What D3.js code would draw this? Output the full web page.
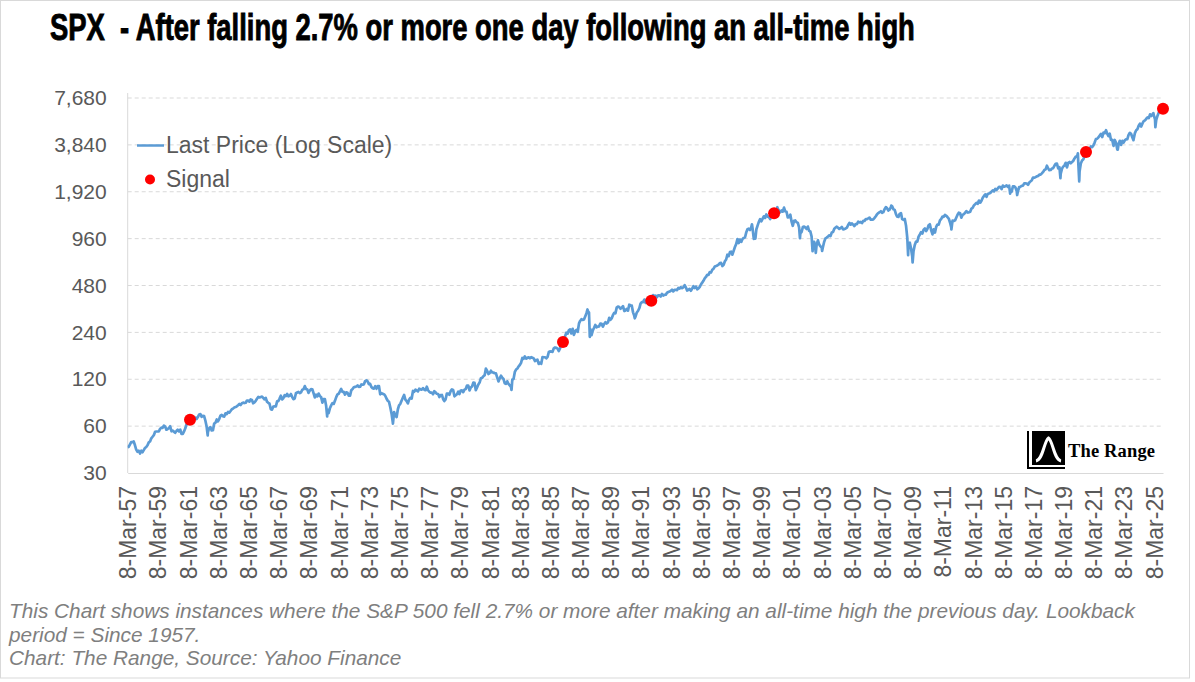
<!DOCTYPE html>
<html>
<head>
<meta charset="utf-8">
<script src="https://cdn.jsdelivr.net/npm/d3@7"></script>
<style>
  body { margin: 0; background: #fff; }
  svg { display: block; font-family: Arial, "Liberation Sans", sans-serif; }
</style>
</head>
<body>
<div id="chart"></div>
<script>
// monthly closes, starting Mar 1957
const spx1950s = [44.1, 45.7, 47.4, 47.4, 47.9, 45.2, 42.4, 41.1, 41.7, 40.0,
  41.7, 40.8, 42.1, 43.4, 44.1, 45.2, 47.2, 47.8, 50.1, 51.3, 52.5, 55.2,
  55.4, 55.4, 55.4, 57.6, 58.7, 58.5, 60.5, 59.6, 56.9, 57.5, 58.3, 59.9]
const spx1960s = [55.6, 56.1, 55.3, 54.4, 55.8, 56.9, 55.5, 57.0, 53.5, 53.4, 55.5, 58.1,
  61.8, 63.4, 65.1, 65.3, 66.6, 64.6, 66.8, 68.1, 66.7, 68.6, 71.3, 71.6,
  68.8, 69.9, 69.6, 65.2, 59.6, 54.8, 58.2, 59.1, 56.3, 56.5, 62.3, 63.1,
  66.2, 64.3, 66.6, 70.0, 70.8, 69.4, 69.1, 72.5, 71.7, 74.0, 73.2, 75.0,
  77.0, 77.8, 79.0, 79.5, 80.4, 81.7, 83.2, 82.0, 84.2, 84.9, 84.4, 84.8,
  87.6, 87.4, 86.2, 89.1, 88.4, 84.1, 85.3, 87.2, 90.0, 92.4, 91.6, 92.4,
  92.9, 91.2, 89.2, 91.1, 86.1, 84.7, 83.6, 77.1, 76.6, 80.2, 80.5, 80.3,
  86.6, 86.8, 90.2, 94.0, 89.1, 90.6, 94.8, 93.6, 96.7, 93.3, 94.0, 96.5,
  92.2, 89.4, 90.2, 97.6, 98.7, 99.6, 97.7, 98.9, 102.7, 103.4, 108.4, 103.9,
  103.0, 98.1, 101.5, 103.7, 103.5, 97.7, 91.8, 95.5, 93.1, 97.1, 93.8, 92.1]
const spx1970s = [85.0, 89.5, 89.6, 81.5, 76.6, 72.7, 78.1, 81.5, 84.3, 83.3, 87.2, 92.2,
  95.9, 96.8, 100.3, 103.9, 99.6, 99.7, 95.6, 99.0, 98.3, 94.2, 94.0, 102.1,
  103.9, 106.6, 107.2, 107.7, 109.5, 107.1, 107.4, 111.1, 110.6, 111.6, 116.7, 118.1,
  116.0, 111.7, 112.0, 107.0, 105.0, 104.3, 108.2, 104.3, 108.4, 108.3, 96.0, 97.6,
  96.6, 96.2, 94.0, 90.3, 87.3, 86.0, 79.3, 72.2, 63.5, 73.9, 70.0, 68.6,
  77.0, 81.6, 83.4, 87.3, 91.2, 95.2, 88.8, 86.9, 83.9, 89.0, 91.2, 90.2,
  100.9, 99.7, 102.8, 101.6, 100.2, 104.3, 103.4, 102.9, 105.2, 102.9, 102.1, 107.5,
  102.0, 99.8, 98.4, 98.4, 96.1, 100.5, 98.9, 96.8, 96.5, 92.3, 94.8, 95.1,
  89.3, 87.0, 89.2, 97.0, 97.2, 95.5, 100.7, 103.3, 102.5, 93.2, 94.7, 96.1,
  99.9, 96.3, 101.6, 101.8, 99.1, 102.9, 103.8, 109.3, 109.3, 101.8, 106.2, 107.9]
const spx1980s = [114.2, 113.7, 102.1, 106.3, 111.2, 114.2, 121.7, 122.4, 125.5, 127.5, 140.5, 135.8,
  129.6, 131.3, 136.0, 132.8, 132.6, 131.2, 130.9, 122.8, 116.2, 121.9, 126.4, 122.6,
  120.4, 113.1, 112.0, 116.4, 111.9, 109.6, 107.1, 119.5, 120.4, 133.7, 138.5, 140.6,
  145.3, 148.1, 153.0, 164.4, 162.4, 168.1, 162.6, 164.4, 166.1, 163.6, 166.4, 164.9,
  163.4, 157.1, 159.2, 160.1, 150.6, 153.2, 150.7, 166.7, 166.1, 166.1, 163.6, 167.2,
  179.6, 181.2, 180.7, 179.8, 189.6, 191.9, 190.9, 188.6, 182.1, 189.8, 202.2, 211.3,
  211.8, 226.9, 238.9, 235.5, 247.4, 250.8, 236.1, 252.9, 231.3, 244.0, 249.2, 242.2,
  274.1, 284.2, 291.7, 288.4, 290.1, 304.0, 318.7, 329.8, 321.8, 251.8, 230.3, 247.1,
  257.1, 267.8, 258.9, 261.3, 262.2, 273.5, 272.0, 261.5, 271.9, 279.0, 273.7, 277.7,
  297.5, 288.9, 294.9, 309.6, 320.5, 318.0, 346.1, 351.5, 349.2, 340.4, 346.0, 353.4]
const spx1990s = [329.1, 331.9, 339.9, 330.8, 361.2, 358.0, 356.2, 322.6, 306.1, 304.0, 322.2, 330.2,
  343.9, 367.1, 375.2, 375.3, 389.8, 371.2, 387.8, 395.4, 387.9, 392.5, 375.2, 417.1,
  408.8, 412.7, 403.7, 415.0, 415.4, 408.1, 424.2, 414.0, 417.8, 418.7, 431.4, 435.7,
  438.8, 443.4, 451.7, 440.2, 450.2, 450.5, 448.1, 463.6, 458.9, 467.8, 461.8, 466.5,
  481.6, 467.1, 445.8, 450.9, 456.5, 444.3, 458.3, 475.5, 462.7, 472.4, 453.7, 459.3,
  470.4, 487.4, 500.7, 514.7, 533.4, 544.8, 562.1, 561.9, 584.4, 581.5, 605.4, 615.9,
  636.0, 640.4, 645.5, 654.2, 669.1, 670.6, 639.9, 652.0, 687.3, 705.3, 757.0, 740.7,
  786.2, 790.8, 757.1, 801.3, 848.3, 885.1, 954.3, 899.5, 947.3, 914.6, 955.4, 970.4,
  980.3, 1049.3, 1101.8, 1111.8, 1090.8, 1133.8, 1120.7, 957.3, 1017.0, 1098.7, 1163.6, 1229.2,
  1279.6, 1238.3, 1286.4, 1335.2, 1301.8, 1372.7, 1328.7, 1320.4, 1282.7, 1362.9, 1389.0, 1469.3]
const spx2000s = [1394.5, 1366.4, 1498.6, 1452.4, 1420.6, 1454.6, 1430.8, 1517.7, 1436.5, 1429.4, 1315.2, 1320.3,
  1366.0, 1239.9, 1160.3, 1249.5, 1255.8, 1224.4, 1211.2, 1133.6, 1040.9, 1059.8, 1139.5, 1148.1,
  1130.2, 1106.7, 1147.4, 1076.9, 1067.1, 989.8, 911.6, 916.1, 815.3, 885.8, 936.3, 879.8,
  855.7, 841.2, 848.2, 916.9, 963.6, 974.5, 990.3, 1008.0, 996.0, 1050.7, 1058.2, 1111.9,
  1131.1, 1144.9, 1126.2, 1107.3, 1120.7, 1140.8, 1101.7, 1104.2, 1114.6, 1130.2, 1173.8, 1211.9,
  1181.3, 1203.6, 1180.6, 1156.9, 1191.5, 1191.3, 1234.2, 1220.3, 1228.8, 1207.0, 1249.5, 1248.3,
  1280.1, 1280.7, 1294.8, 1310.6, 1270.1, 1270.2, 1276.7, 1303.8, 1335.9, 1377.9, 1400.6, 1418.3,
  1438.2, 1406.8, 1420.9, 1482.4, 1530.6, 1503.4, 1455.3, 1474.0, 1526.8, 1549.4, 1481.1, 1468.4,
  1378.6, 1330.6, 1322.7, 1385.6, 1400.4, 1280.0, 1267.4, 1282.8, 1166.4, 968.8, 896.2, 903.3,
  825.9, 735.1, 797.9, 872.8, 919.1, 919.3, 987.5, 1020.6, 1057.1, 1036.2, 1095.6, 1115.1]
const spx2010s = [1073.9, 1104.5, 1169.4, 1186.7, 1089.4, 1030.7, 1101.6, 1049.3, 1141.2, 1183.3, 1180.6, 1257.6,
  1286.1, 1327.2, 1325.8, 1363.6, 1345.2, 1320.6, 1292.3, 1218.9, 1131.4, 1253.3, 1247.0, 1257.6,
  1312.4, 1365.7, 1408.5, 1397.9, 1310.3, 1362.2, 1379.3, 1406.6, 1440.7, 1412.2, 1416.2, 1426.2,
  1498.1, 1514.7, 1569.2, 1597.6, 1630.7, 1606.3, 1685.7, 1633.0, 1681.6, 1756.5, 1805.8, 1848.4,
  1782.6, 1859.5, 1872.3, 1884.0, 1923.6, 1960.2, 1930.7, 2003.4, 1972.3, 2018.1, 2067.6, 2058.9,
  1995.0, 2104.5, 2067.9, 2085.5, 2107.4, 2063.1, 2103.8, 1972.2, 1920.0, 2079.4, 2080.4, 2043.9,
  1940.2, 1932.2, 2059.7, 2065.3, 2097.0, 2098.9, 2173.6, 2171.0, 2168.3, 2126.2, 2199.0, 2238.8,
  2278.9, 2363.6, 2362.7, 2384.2, 2411.8, 2423.4, 2470.3, 2471.7, 2519.4, 2575.3, 2647.6, 2673.6,
  2823.8, 2713.8, 2640.9, 2648.1, 2705.3, 2718.4, 2816.3, 2901.5, 2914.0, 2711.7, 2760.2, 2506.9,
  2704.1, 2784.5, 2834.4, 2945.8, 2752.1, 2941.8, 2980.4, 2926.5, 2976.7, 3037.6, 3141.0, 3230.8]
const spx2020s = [3225.5, 2954.2, 2584.6, 2912.4, 3044.3, 3100.3, 3271.1, 3500.3, 3363.0, 3270.0, 3621.6, 3756.1,
  3714.2, 3811.2, 3972.9, 4181.2, 4204.1, 4297.5, 4395.3, 4522.7, 4307.5, 4605.4, 4567.0, 4766.2,
  4515.6, 4373.9, 4530.4, 4131.9, 4132.2, 3785.4, 4130.3, 3955.0, 3585.6, 3872.0, 4080.1, 3839.5,
  4076.6, 3970.2, 4109.3, 4169.5, 4179.8, 4450.4, 4589.0, 4507.7, 4288.1, 4193.8, 4567.8, 4769.8,
  4845.7, 5096.3, 5254.4, 5035.7, 5277.5, 5460.5, 5522.3, 5648.4, 5762.5, 5705.5, 6032.4, 5881.6,
  6040.5, 5954.5, 5611.9, 5569.1, 5911.7, 6205.0, 6339.4, 6460.3, 6688.5]

// daily closes at turning points between month ends
const extraDates = ['1957-03-08', '1962-06-26', '1970-05-26', '1974-10-03', '1982-08-12',
  '1987-08-25', '1987-10-19', '1990-10-11', '1998-07-17', '1998-10-08', '2000-03-24',
  '2001-09-21', '2002-07-23', '2002-10-09', '2003-03-11', '2007-10-09', '2008-11-20',
  '2009-03-09', '2010-07-02', '2011-10-03', '2015-08-25', '2016-02-11', '2018-12-24',
  '2020-02-19', '2020-03-23', '2022-10-12', '2023-10-27', '2025-02-19', '2025-04-08',
  '2025-10-08', '2025-10-10']
const extraValues = [44.0, 52.3, 69.3, 62.3, 102.4,
  336.8, 224.8, 295.5, 1186.8, 959.4, 1527.5,
  965.8, 797.7, 776.8, 800.7, 1565.2, 752.4,
  676.5, 1022.6, 1099.2, 1867.6, 1829.1, 2351.1,
  3386.2, 2237.4, 3577.0, 4117.4, 6144.2, 4982.8,
  6753.7, 6552.5]

const signalDates = ['1961-04-24', '1986-01-08', '1991-11-15', '2000-01-04', '2020-09-03', '2025-10-10']
const signalValues = [66.0, 208.0, 382.6, 1399.4, 3455.1, 6552.5]

const yTicks = [30, 60, 120, 240, 480, 960, 1920, 3840, 7680]

const titleText = 'SPX  - After falling 2.7% or more one day following an all-time high'
const noteLines = [
  'This Chart shows instances where the S&P 500 fell 2.7% or more after making an all-time high the previous day. Lookback',
  'period = Since 1957.',
  'Chart: The Range, Source: Yahoo Finance',
]

const parse = d3.timeParse('%Y-%m-%d')

const monthly = [].concat(spx1950s, spx1960s, spx1970s, spx1980s, spx1990s, spx2000s, spx2010s, spx2020s)
  .map((v, i) => ({date: new Date(1957, 3 + i, 0), value: v}))
const extras = extraDates.map((d, i) => ({date: parse(d), value: extraValues[i]}))
const series = monthly.concat(extras).sort((a, b) => a.date - b.date)
const signals = signalDates.map((d, i) => ({date: parse(d), value: signalValues[i]}))

const W = 1195
const H = 682
const plot = {left: 127.7, right: 1163, top: 98, bottom: 473}
const grey = '#595959'
const gridColor = '#d9d9d9'

const svg = d3.select('#chart').append('svg')
  .attr('width', W)
  .attr('height', H)

svg.append('rect')
  .attr('x', 0.5).attr('y', 0.5)
  .attr('width', 1189).attr('height', 677.5)
  .attr('fill', '#fff')
  .attr('stroke', gridColor)

const x = d3.scaleTime()
  .domain([parse('1957-03-08'), parse('2025-10-10')])
  .range([plot.left, plot.right])

const y = d3.scaleLog()
  .base(2)
  .domain([30, 7680])
  .range([plot.bottom, plot.top])

// gridlines
svg.append('g')
  .selectAll('line')
  .data(yTicks.slice(1))
  .enter()
  .append('line')
  .attr('x1', plot.left).attr('x2', plot.right)
  .attr('y1', d => y(d)).attr('y2', d => y(d))
  .attr('stroke', gridColor)
  .attr('stroke-dasharray', '4,3')

// y axis
const yAxis = svg.append('g')
  .attr('transform', `translate(${plot.left}, 0)`)
  .call(d3.axisLeft(y).tickValues(yTicks).tickFormat(d3.format(',')).tickSize(0).tickPadding(21))
yAxis.select('.domain').attr('stroke', gridColor).attr('d', `M0,${plot.top - 5}V${plot.bottom}`)
yAxis.selectAll('text')
  .attr('fill', grey)
  .style('font-size', '21px')
  .style('font-family', 'Arial, "Liberation Sans", sans-serif')

// x axis
const xTicks = d3.range(0, 35).map(i => new Date(1957 + 2 * i, 2, 8))
const xAxis = svg.append('g')
  .attr('transform', `translate(0, ${plot.bottom})`)
  .call(d3.axisBottom(x).tickValues(xTicks).tickFormat(d3.timeFormat('%-d-%b-%y')).tickSize(0))
xAxis.select('.domain').attr('stroke', gridColor)
xAxis.selectAll('text')
  .attr('fill', grey)
  .style('font-size', '23px')
  .style('font-family', 'Arial, "Liberation Sans", sans-serif')
  .attr('text-anchor', 'end')
  .attr('transform', 'rotate(-90)')
  .attr('x', -13)
  .attr('y', 0)
  .attr('dy', '0.35em')

// price line
const line = d3.line()
  .x(d => x(d.date))
  .y(d => y(d.value))

svg.append('path')
  .datum(series)
  .attr('fill', 'none')
  .attr('stroke', '#5b9bd5')
  .attr('stroke-width', 2.7)
  .attr('stroke-linejoin', 'round')
  .attr('d', line)

svg.append('g')
  .selectAll('circle')
  .data(signals)
  .enter()
  .append('circle')
  .attr('cx', d => x(d.date))
  .attr('cy', d => y(d.value))
  .attr('r', 6)
  .attr('fill', '#ff0000')

// legend
const legend = svg.append('g')
  .style('font-size', '23px')
  .attr('fill', grey)
legend.append('line')
  .attr('x1', 137).attr('x2', 164)
  .attr('y1', 145.5).attr('y2', 145.5)
  .attr('stroke', '#5b9bd5')
  .attr('stroke-width', 2.5)
legend.append('text').attr('x', 166).attr('y', 153).text('Last Price (Log Scale)')
legend.append('circle').attr('cx', 150).attr('cy', 179.5).attr('r', 5).attr('fill', '#ff0000')
legend.append('text').attr('x', 166).attr('y', 187).text('Signal')

// title, squeezed to the width of the original condensed face
const title = svg.append('text')
  .style('white-space', 'pre')
  .style('font-family', '"Liberation Sans Narrow", "Arial Narrow", Arial, sans-serif')
  .style('font-weight', 'bold')
  .style('font-size', '37px')
  .attr('fill', '#000')
  .attr('stroke', '#000')
  .attr('stroke-width', 0.9)
  .text(titleText)
const titleWidth = title.node().getComputedTextLength()
title.attr('transform', `translate(50, 40) scale(${865 / titleWidth}, 1)`)

// note
svg.append('g')
  .selectAll('text')
  .data(noteLines)
  .enter()
  .append('text')
  .attr('x', 9)
  .attr('y', (d, i) => 618 + i * 23.5)
  .style('font-size', '20.8px')
  .style('font-style', 'italic')
  .attr('fill', '#7f7f7f')
  .text(d => d)

// logo
const logo = svg.append('g')
logo.append('path')
  .attr('d', 'M1028,431V468H1065')
  .attr('fill', 'none')
  .attr('stroke', '#000')
  .attr('stroke-width', 2)
logo.append('rect')
  .attr('x', 1032).attr('y', 431)
  .attr('width', 33).attr('height', 34)
  .attr('fill', '#000')
logo.append('path')
  .attr('d', 'M1036,461C1043,460 1044,441 1048.5,438C1053,441 1054,460 1061,461')
  .attr('fill', 'none')
  .attr('stroke', '#fff')
  .attr('stroke-width', 3)
logo.append('text')
  .attr('x', 1068)
  .attr('y', 457)
  .attr('textLength', 87)
  .style('font-family', '"Liberation Serif", "Times New Roman", serif')
  .style('font-weight', 'bold')
  .style('font-size', '18.5px')
  .attr('fill', '#000')
  .text('The Range')
</script>
</body>
</html>
